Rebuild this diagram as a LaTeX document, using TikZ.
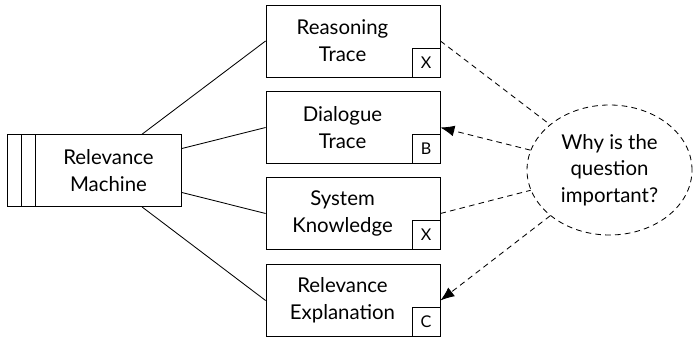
\documentclass[tikz,border=0pt]{standalone}
\usepackage{fontspec}
\setmainfont{Lato}
\usepackage{tikz}
\usetikzlibrary{arrows.meta,shapes.geometric}

\begin{document}
\begin{tikzpicture}[x=0.25mm, y=-0.25mm, line width=0.6pt,
    box/.style={draw, minimum width=43.5mm, minimum height=18mm, inner sep=0pt},
    txt/.style={align=center, font=\fontsize{14.5}{19}\selectfont},
    tag/.style={draw, minimum width=7mm, minimum height=7.25mm, inner sep=0pt,
                font=\fontsize{11.5}{12}\selectfont},
    dashline/.style={dash pattern=on 4pt off 3pt},
    arr/.style={-{Latex[length=3.5mm,width=2.7mm]}}]
    \useasboundingbox (0,0) rectangle (693,337);

    \node[box] (mach) at (94,170.5) {};
    \node[txt] (machtxt) at (108.5,170.5) {Relevance\\Machine};
    \draw ([shift={(15,0)}]mach.north west) -- ([shift={(15,0)}]mach.south west);
    \draw ([shift={(29,0)}]mach.north west) -- ([shift={(29,0)}]mach.south west);

    \node[box] (rt) at (353,41) {};
    \node[txt] (rttxt) at (342.5,41) {Reasoning\\Trace};
    \node[tag, anchor=south east] (rttag) at (rt.south east) {X};

    \node[box] (dt) at (353,127.5) {};
    \node[txt] (dttxt) at (342.5,127.5) {Dialogue\\Trace};
    \node[tag, anchor=south east] (dttag) at (dt.south east) {B};

    \node[box] (sk) at (353,213.5) {};
    \node[txt] (sktxt) at (342.5,213.5) {System\\Knowledge};
    \node[tag, anchor=south east] (sktag) at (sk.south east) {X};

    \node[box] (re) at (353,300.5) {};
    \node[txt] (retxt) at (342.5,300.5) {Relevance\\Explanation};
    \node[tag, anchor=south east] (retag) at (re.south east) {C};

    \node[ellipse, draw, dashline, txt, inner sep=0pt,
          minimum width=41.25mm, minimum height=32.5mm] (why) at (609.5,170)
          {Why is the\\question\\important?};

    \draw (mach) -- (rt.west)
          (mach) -- (dt.west)
          (mach) -- (sk.west)
          (mach) -- (re.west);

    \draw[dashline] (rt.east) -- (why);
    \draw[dashline, arr] (why) -- (dt.east);
    \draw[dashline] (sk.east) -- (why);
    \draw[dashline, arr] (why) -- (re.east);
\end{tikzpicture}
\end{document}
